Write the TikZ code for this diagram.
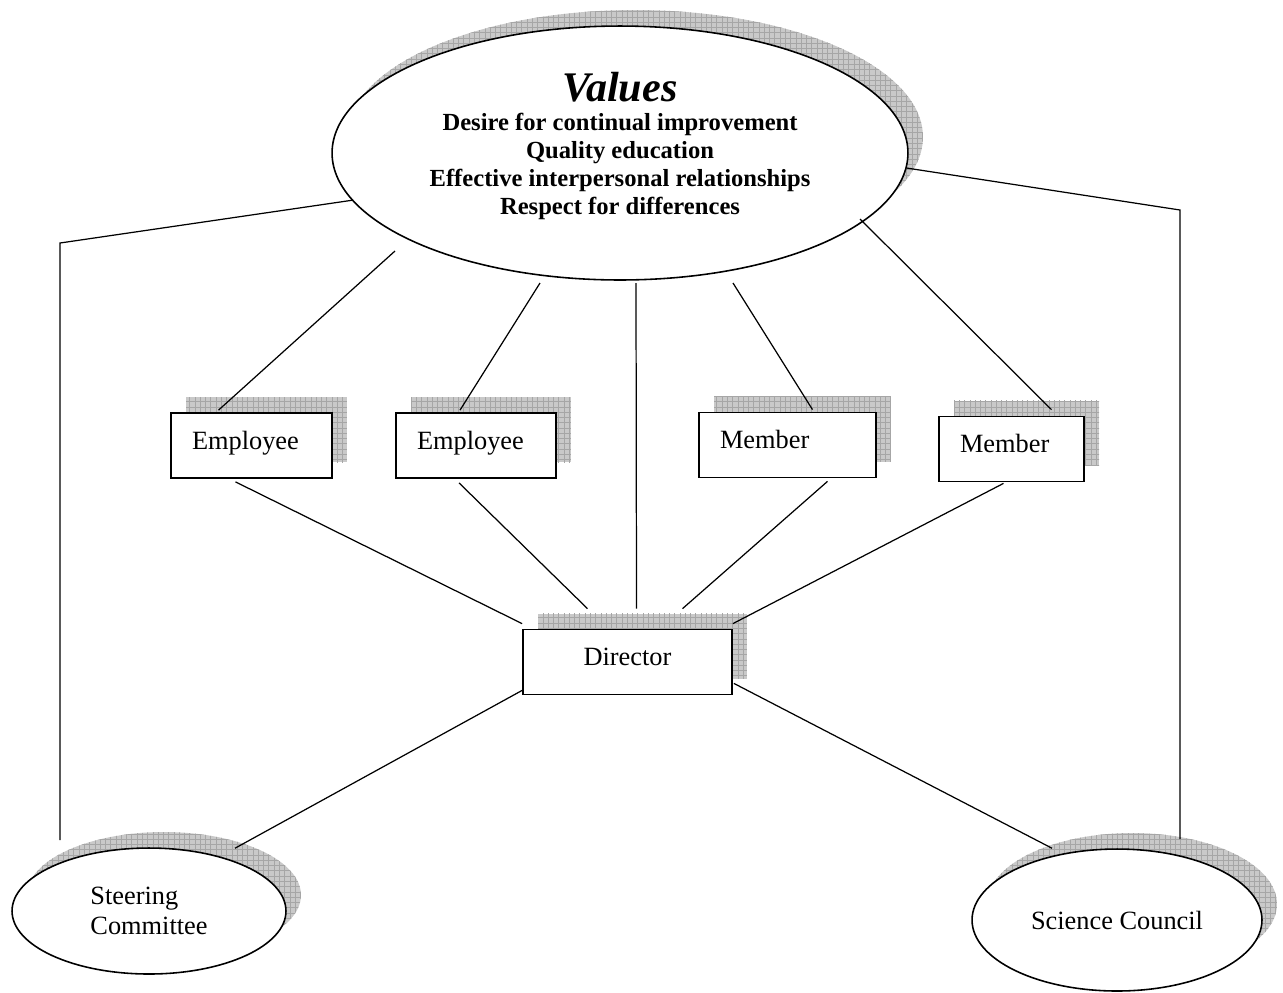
\documentclass[tikz,border=0pt]{standalone}
\usepackage{fontspec}
\setmainfont{Liberation Serif}
\usetikzlibrary{shapes.geometric,shadows,patterns}

\begin{document}
\begin{tikzpicture}[x=0.02cm,y=-0.02cm,
  gridshadow/.style={
    general shadow={shadow xshift=0.3cm,shadow yshift=0.32cm,fill=gray!42},
    general shadow={shadow xshift=0.3cm,shadow yshift=0.32cm,pattern=grid,pattern color=gray!70}},
  unit/.style={draw,line width=1pt,fill=white,gridshadow,minimum height=1.3cm,
    inner xsep=0.42cm,align=left,text height=0.7em,text depth=0.25em,
    font=\fontsize{15}{18}\selectfont},
  group/.style={ellipse,draw,line width=0.9pt,fill=white,gridshadow,inner sep=0pt,
    font=\fontsize{15}{17}\selectfont},
  link/.style={line width=0.7pt}]
  \useasboundingbox (0,0) rectangle (1283,992);

  \node[group,minimum width=11.52cm,minimum height=5.08cm,
    font=\fontsize{14}{15.9}\selectfont\bfseries] (values) at (620,153)
    {\raisebox{0.11cm}[\height][\depth]{\begin{tabular}{@{}c@{}}
     {\fontsize{24}{26}\selectfont\itshape Values}\\[1pt]
     Desire for continual improvement\\
     Quality education\\
     Effective interpersonal relationships\\
     Respect for differences
     \end{tabular}}};

  \node[unit,text width=2.38cm] (emp1) at (251.5,445.5) {Employee};
  \node[unit,text width=2.36cm] (emp2) at (476,445.5) {Employee};
  \node[unit,text width=2.70cm] (mem1) at (787.5,445) {Member};
  \node[unit,text width=2.06cm] (mem2) at (1011.5,449) {Member};
  \node[unit,text width=3.34cm,align=center] (dir) at (627.5,662) {Director};

  \node[group,minimum width=5.48cm,minimum height=2.52cm,align=left] (steer) at (149,911) {Steering\\Committee};
  \node[group,minimum width=5.8cm,minimum height=2.84cm] (council) at (1117,920) {Science Council};

  % free ends of the links
  \coordinate (lcorner) at (60,243);
  \coordinate (lfoot) at (60,840);
  \coordinate (rcorner) at (1180,210);
  \coordinate (rfoot) at (1180,839);
  \coordinate (v1) at (395,251);
  \coordinate (v2) at (540,283);
  \coordinate (v3) at (636,283);
  \coordinate (v4) at (733,283);
  \coordinate (v5) at (860,219);

  \draw[link] (values.190) -- (lcorner) -- (lfoot);
  \draw[link] (values.-3) -- (rcorner) -- (rfoot);
  \draw[link] (v1) -- ([shift={(-33,-2)}]emp1.north);
  \draw[link] (v2) -- ([shift={(-16,-2)}]emp2.north);
  \draw[link] (v3) -- ([shift={(9,-20)}]dir.north);
  \draw[link] (v4) -- ([shift={(25,-2)}]mem1.north);
  \draw[link] (v5) -- ([shift={(40,-6)}]mem2.north);
  \draw[link] ([shift={(-16,3)}]emp1.south) -- ([shift={(0,-5)}]dir.north west);
  \draw[link] ([shift={(-17,4)}]emp2.south) -- ([shift={(-40,-20)}]dir.north);
  \draw[link] ([shift={(40,3)}]mem1.south) -- ([shift={(55,-20)}]dir.north);
  \draw[link] ([shift={(-8,1)}]mem2.south) -- ([shift={(0,-5)}]dir.north east);
  \draw[link] ([shift={(0,-5)}]dir.south west) -- ([shift={(86,1)}]steer.north);
  \draw[link] ([shift={(1,-12)}]dir.south east) -- ([shift={(-65,0)}]council.north);
\end{tikzpicture}
\end{document}
